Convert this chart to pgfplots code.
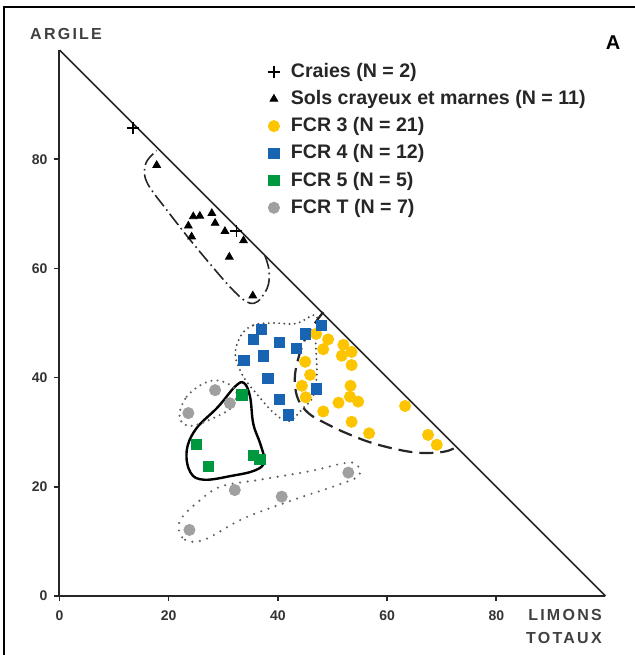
\documentclass[border=0pt]{standalone}
\usepackage{pgfplots}
\pgfplotsset{compat=1.18}
\usepackage{fontspec}
\setmainfont{Liberation Sans}
\newfontfamily\spacedfont[LetterSpace=14]{Liberation Sans}
\definecolor{fcryellow}{RGB}{253,196,0}
\definecolor{fcrblue}{RGB}{25,100,178}
\definecolor{fcrgreen}{RGB}{0,152,62}
\definecolor{fcrgrey}{RGB}{160,160,160}
\begin{document}
\begin{tikzpicture}
\path[use as bounding box] (-29.75pt,-29.5pt) rectangle (287.75pt,298pt);
\draw[line width=1pt] (-27.5pt,-29.5pt) -- (-27.5pt,294.5pt) -- (287.75pt,294.5pt);
\begin{axis}[
  at={(0pt,0pt)}, anchor=south west,
  x=2.73pt, y=2.73pt,
  xmin=0, xmax=100, ymin=0, ymax=100,
  enlargelimits=false, clip=false,
  axis x line=bottom, axis y line=left,
  axis line style={-, line width=1pt, black!85},
  xtick={0,20,40,60,80}, ytick={0,20,40,60,80},
  tick align=outside, major tick length=2.5pt,
  tick style={line width=0.8pt, black!85},
  ticklabel style={font=\fontsize{7}{8}\selectfont\bfseries, text=black!80},
  xticklabel style={yshift=-1.5pt},
  /pgf/number format/assume math mode=true,
  legend style={at={(axis cs:38.1,98.4)}, anchor=north west, draw=none, fill=none,
    inner sep=0pt, font=\fontsize{9.8}{11}\selectfont\bfseries, text=black!85,
    row sep=1.0pt, /tikz/every odd column/.append style={column sep=3.5pt}},
  legend cell align=left,
  legend image code/.code={\draw[mark repeat=2,mark phase=2,#1] plot coordinates {(0cm,0cm) (0.15cm,0cm) (0.3cm,0cm)};},
]
% hypotenuse
\draw[line width=0.8pt, black!85] (axis cs:0,100) -- (axis cs:100,0);
% envelopes
\draw[line width=0.8pt, black!85, dash pattern=on 7pt off 2pt on 0.8pt off 2pt]
  plot[smooth, tension=0.6] coordinates {(37.6,62.4) (38.4,59.5) (38.0,56.3) (35.6,53.6) (32.3,55.5) (25.5,63.3) (19.8,70.5) (16.0,75.8) (15.8,79.2) (17.8,81.6)};
\draw[line width=1.1pt, black!70, line cap=round, dash pattern=on 0pt off 2.6pt]
  plot[smooth cycle, tension=0.6] coordinates {(33.3,47.8) (35.5,49.6) (39,50.0) (43.3,49.9) (47.0,51.4) (46.9,47) (47.1,42.6) (47.1,40) (46.4,36.4) (44.6,34.4) (42,32.0) (39.3,33.5) (36.3,36.8) (33.6,40.3) (32.2,44.3)};
\draw[line width=1.1pt, black!85, dash pattern=on 7pt off 3.5pt]
  plot[smooth, tension=0.6] coordinates {(48.3,52.0) (45.2,47.5) (43.5,42.6) (43.1,39) (43.8,35.8) (45.7,33.4) (48.6,31.7) (52.6,29.8) (58,27.8) (65,26.3) (70.3,26.4) (72.7,27.3)};
\draw[line width=1.2pt, black]
  plot[smooth cycle, tension=0.65] coordinates {(33.8,39.0) (34.9,36.5) (35.5,31.5) (36.8,27.8) (37.5,24.6) (35.8,23.0) (31.5,22.0) (26.5,21.3) (24.0,22.6) (23.3,26.6) (25.0,30.6) (29.0,34.6) (32.2,38.4)};
\draw[line width=1.2pt, black!60, line cap=round, dash pattern=on 0pt off 3pt]
  plot[smooth cycle, tension=0.6] coordinates {(22.0,33.6) (23.3,36.5) (25.8,38.6) (28.4,39.5) (31.0,38.8) (32.4,37.2) (31.5,34.5) (28.0,32.5) (24.5,31.2) (22.6,31.6)};
\draw[line width=1.2pt, black!60, line cap=round, dash pattern=on 0pt off 3.8pt]
  plot[smooth cycle, tension=0.6] coordinates {(21.8,12.5) (23.0,10.3) (26.5,10.3) (33.7,14.2) (42.8,17.6) (50,20) (54.8,22) (54.3,24.2) (52,24.3) (46,22.9) (36.7,21.3) (29.4,20.0) (25.1,17.0) (22.6,14.6)};
% data
\addplot[only marks, mark=+, mark size=3pt, line width=0.9pt, black] coordinates {(13.5,85.7) (32.4,66.8)};
\addlegendentry{Craies (N = 2)}
\addplot[only marks, mark=triangle*, mark size=2.2pt, black] coordinates {
(17.8,78.9) (24.5,69.5) (25.7,69.6) (27.9,70.1) (23.6,67.8) (28.5,68.3) (30.3,66.8) (24.2,65.8) (33.7,65.1) (31.1,62.1) (35.4,55.0)};
\addlegendentry{Sols crayeux et marnes (N = 11)}
\addplot[only marks, mark=*, mark size=2.8pt, fcryellow] coordinates {
(47.0,48.0) (49.2,47.0) (48.3,45.2) (52.0,46.0) (53.5,44.7) (51.7,44.0) (53.5,42.3) (45.0,42.9) (45.9,40.5) (44.4,38.5) (45.1,36.4) (53.3,38.5) (53.2,36.5) (54.7,35.6) (51.1,35.4) (48.3,33.8) (53.5,31.9) (56.7,29.8) (63.3,34.8) (67.5,29.5) (69.1,27.7)};
\addlegendentry{FCR 3 (N = 21)}
\addplot[only marks, mark=square*, mark size=2.6pt, fcrblue] coordinates {
(37.0,48.8) (35.5,47.0) (40.3,46.4) (45.0,48.0) (48.0,49.6) (43.4,45.4) (33.8,43.2) (37.3,44.0) (38.2,39.9) (40.3,36.0) (41.9,33.2) (47.0,37.9)};
\addlegendentry{FCR 4 (N = 12)}
\addplot[only marks, mark=square*, mark size=2.6pt, fcrgreen] coordinates {
(33.4,36.8) (25.1,27.8) (27.3,23.7) (35.5,25.8) (36.7,25.0)};
\addlegendentry{FCR 5 (N = 5)}
\addplot[only marks, mark=*, mark size=2.8pt, fcrgrey] coordinates {
(28.5,37.7) (31.2,35.3) (23.6,33.5) (32.1,19.4) (40.7,18.2) (52.9,22.6) (23.8,12.1)};
\addlegendentry{FCR T (N = 7)}
% labels
\node[font=\spacedfont\fontsize{8}{9}\selectfont\bfseries, text=black!75] at (axis cs:1.2,102.9) {ARGILE};
\node[anchor=east, font=\spacedfont\fontsize{8}{9}\selectfont\bfseries, text=black!75] at (axis cs:100.6,-3.5) {LIMONS};
\node[anchor=east, font=\spacedfont\fontsize{8}{9}\selectfont\bfseries, text=black!75] at (axis cs:100.6,-7.7) {TOTAUX};
\node[font=\fontsize{10}{12}\selectfont\bfseries] at (axis cs:101.4,101.3) {A};
\end{axis}
\end{tikzpicture}
\end{document}
